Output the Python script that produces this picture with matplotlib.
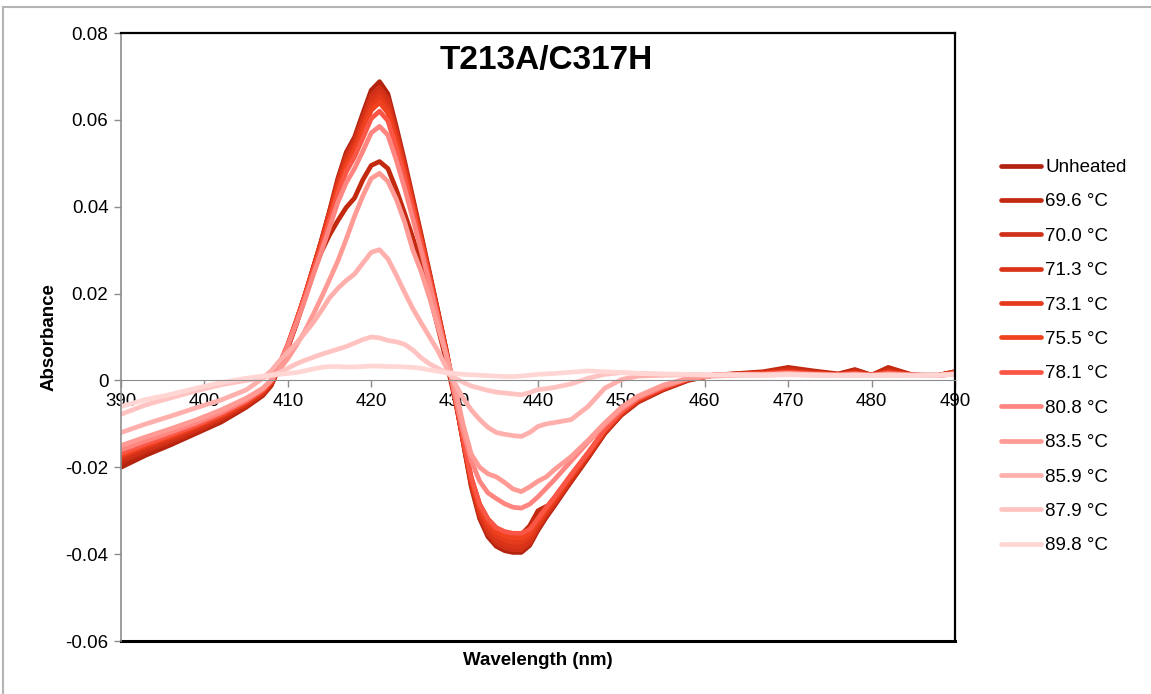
import matplotlib.pyplot as plt
from matplotlib.patches import Rectangle

plt.rcParams['font.family'] = ['Liberation Sans', 'DejaVu Sans']

wavelength = [390, 393, 396, 399, 402, 405, 407, 408, 409, 410,
              411, 412, 413, 414, 415, 416, 417, 418, 419, 420,
              421, 422, 423, 424, 425, 426, 427, 428, 429, 430,
              431, 432, 433, 434, 435, 436, 437, 438, 439, 440,
              441, 442, 444, 446, 448, 450, 452, 455, 458, 461,
              464, 467, 470, 473, 476, 478, 480, 482, 485, 488,
              490]

labels = ["Unheated", "69.6 °C", "70.0 °C", "71.3 °C", "73.1 °C", "75.5 °C",
          "78.1 °C", "80.8 °C", "83.5 °C", "85.9 °C", "87.9 °C", "89.8 °C"]

colors = ["#b3230f", "#c2290f", "#d02f18", "#da3418", "#e63a1c", "#f0421f",
          "#fa5545", "#ff8580", "#ff9a95", "#ffb0ad", "#ffc3c1", "#ffd6d4"]

unheated = [-0.0200, -0.0172, -0.0148, -0.0122, -0.0096, -0.0062, -0.0035, -0.0012, 0.0030, 0.0075,
            0.0130, 0.0190, 0.0255, 0.0320, 0.0390, 0.0465, 0.0525, 0.0560, 0.0615, 0.0668,
            0.0688, 0.0660, 0.0585, 0.0505, 0.0420, 0.0335, 0.0248, 0.0160, 0.0070, -0.0030,
            -0.0140, -0.0245, -0.0318, -0.0360, -0.0382, -0.0392, -0.0396, -0.0396, -0.0380, -0.0345,
            -0.0315, -0.0288, -0.0232, -0.0178, -0.0122, -0.0080, -0.0050, -0.0022, 0.0000, 0.0012,
            0.0015, 0.0018, 0.0028, 0.0020, 0.0014, 0.0024, 0.0012, 0.0028, 0.0012, 0.0012,
            0.0020]
t69_6 = [-0.0190, -0.0164, -0.0142, -0.0118, -0.0092, -0.0060, -0.0033, -0.0010, 0.0032, 0.0076,
         0.0128, 0.0186, 0.0245, 0.0295, 0.0335, 0.0368, 0.0398, 0.0420, 0.0462, 0.0495,
         0.0504, 0.0488, 0.0440, 0.0385, 0.0328, 0.0268, 0.0198, 0.0122, 0.0045, -0.0040,
         -0.0135, -0.0225, -0.0285, -0.0320, -0.0340, -0.0350, -0.0355, -0.0355, -0.0335, -0.0300,
         -0.0290, -0.0282, -0.0232, -0.0178, -0.0122, -0.0078, -0.0048, -0.0020, 0.0002, 0.0012,
         0.0016, 0.0020, 0.0030, 0.0022, 0.0015, 0.0025, 0.0012, 0.0030, 0.0012, 0.0012,
         0.0020]
t70_0 = [-0.0185, -0.0160, -0.0138, -0.0114, -0.0088, -0.0056, -0.0030, -0.0008, 0.0033, 0.0078,
         0.0133, 0.0192, 0.0256, 0.0320, 0.0388, 0.0460, 0.0518, 0.0553, 0.0605, 0.0656,
         0.0675, 0.0648, 0.0576, 0.0498, 0.0414, 0.0330, 0.0244, 0.0157, 0.0068, -0.0030,
         -0.0138, -0.0240, -0.0312, -0.0353, -0.0375, -0.0385, -0.0390, -0.0390, -0.0375, -0.0340,
         -0.0310, -0.0284, -0.0228, -0.0175, -0.0120, -0.0078, -0.0048, -0.0020, 0.0001, 0.0012,
         0.0015, 0.0018, 0.0025, 0.0018, 0.0013, 0.0020, 0.0012, 0.0024, 0.0012, 0.0011,
         0.0019]
t71_3 = [-0.0178, -0.0154, -0.0133, -0.0110, -0.0085, -0.0054, -0.0028, -0.0006, 0.0035, 0.0080,
         0.0135, 0.0193, 0.0256, 0.0318, 0.0385, 0.0455, 0.0510, 0.0545, 0.0595, 0.0645,
         0.0664, 0.0638, 0.0568, 0.0492, 0.0410, 0.0327, 0.0242, 0.0155, 0.0066, -0.0030,
         -0.0136, -0.0236, -0.0306, -0.0346, -0.0367, -0.0377, -0.0382, -0.0382, -0.0368, -0.0336,
         -0.0306, -0.0280, -0.0225, -0.0172, -0.0118, -0.0076, -0.0046, -0.0019, 0.0002, 0.0012,
         0.0014, 0.0017, 0.0022, 0.0017, 0.0013, 0.0018, 0.0012, 0.0020, 0.0012, 0.0011,
         0.0018]
t73_1 = [-0.0175, -0.0151, -0.0130, -0.0107, -0.0082, -0.0052, -0.0026, -0.0005, 0.0036, 0.0081,
         0.0136, 0.0193, 0.0255, 0.0316, 0.0381, 0.0449, 0.0502, 0.0537, 0.0585, 0.0634,
         0.0652, 0.0627, 0.0560, 0.0486, 0.0405, 0.0323, 0.0240, 0.0153, 0.0064, -0.0030,
         -0.0134, -0.0232, -0.0299, -0.0337, -0.0357, -0.0367, -0.0372, -0.0372, -0.0360, -0.0330,
         -0.0301, -0.0276, -0.0222, -0.0170, -0.0116, -0.0074, -0.0044, -0.0018, 0.0003, 0.0012,
         0.0014, 0.0016, 0.0020, 0.0016, 0.0013, 0.0017, 0.0012, 0.0019, 0.0012, 0.0011,
         0.0018]
t75_5 = [-0.0172, -0.0149, -0.0128, -0.0105, -0.0080, -0.0050, -0.0024, -0.0003, 0.0037, 0.0082,
         0.0136, 0.0192, 0.0253, 0.0312, 0.0375, 0.0441, 0.0493, 0.0528, 0.0575, 0.0622,
         0.0640, 0.0616, 0.0551, 0.0479, 0.0400, 0.0319, 0.0237, 0.0151, 0.0062, -0.0030,
         -0.0132, -0.0228, -0.0292, -0.0328, -0.0348, -0.0358, -0.0362, -0.0362, -0.0352, -0.0324,
         -0.0297, -0.0272, -0.0219, -0.0168, -0.0115, -0.0073, -0.0043, -0.0017, 0.0004, 0.0012,
         0.0014, 0.0016, 0.0019, 0.0016, 0.0013, 0.0016, 0.0012, 0.0018, 0.0012, 0.0011,
         0.0018]
t78_1 = [-0.0168, -0.0146, -0.0125, -0.0103, -0.0078, -0.0048, -0.0022, -0.0001, 0.0038, 0.0082,
         0.0135, 0.0190, 0.0249, 0.0306, 0.0367, 0.0430, 0.0480, 0.0515, 0.0558, 0.0603,
         0.0620, 0.0598, 0.0536, 0.0467, 0.0391, 0.0313, 0.0232, 0.0148, 0.0060, -0.0030,
         -0.0130, -0.0223, -0.0285, -0.0319, -0.0339, -0.0348, -0.0352, -0.0352, -0.0343, -0.0318,
         -0.0292, -0.0268, -0.0216, -0.0166, -0.0113, -0.0072, -0.0042, -0.0016, 0.0004, 0.0012,
         0.0014, 0.0015, 0.0018, 0.0015, 0.0013, 0.0016, 0.0012, 0.0017, 0.0012, 0.0011,
         0.0017]
t80_8 = [-0.0160, -0.0139, -0.0119, -0.0098, -0.0074, -0.0045, -0.0020, 0.0000, 0.0038, 0.0080,
         0.0130, 0.0183, 0.0240, 0.0295, 0.0352, 0.0410, 0.0455, 0.0488, 0.0528, 0.0570,
         0.0585, 0.0565, 0.0508, 0.0443, 0.0372, 0.0298, 0.0222, 0.0142, 0.0058, -0.0030,
         -0.0115, -0.0185, -0.0232, -0.0259, -0.0272, -0.0284, -0.0292, -0.0294, -0.0285, -0.0268,
         -0.0248, -0.0228, -0.0185, -0.0142, -0.0102, -0.0066, -0.0039, -0.0014, 0.0004, 0.0012,
         0.0013, 0.0014, 0.0016, 0.0014, 0.0012, 0.0014, 0.0012, 0.0015, 0.0012, 0.0011,
         0.0016]
t83_5 = [-0.0150, -0.0130, -0.0111, -0.0091, -0.0068, -0.0041, -0.0018, 0.0000, 0.0025, 0.0050,
         0.0080, 0.0112, 0.0150, 0.0190, 0.0232, 0.0275, 0.0325, 0.0378, 0.0425, 0.0465,
         0.0477, 0.0458, 0.0418, 0.0365, 0.0300, 0.0250, 0.0190, 0.0124, 0.0058, -0.0010,
         -0.0100, -0.0170, -0.0200, -0.0215, -0.0222, -0.0235, -0.0250, -0.0256, -0.0245, -0.0232,
         -0.0222, -0.0205, -0.0175, -0.0138, -0.0098, -0.0062, -0.0036, -0.0011, 0.0005, 0.0010,
         0.0012, 0.0013, 0.0015, 0.0013, 0.0012, 0.0013, 0.0012, 0.0014, 0.0012, 0.0011,
         0.0015]
t85_9 = [-0.0120, -0.0100, -0.0082, -0.0063, -0.0045, -0.0022, 0.0005, 0.0022, 0.0045, 0.0065,
         0.0085, 0.0108, 0.0132, 0.0160, 0.0190, 0.0212, 0.0230, 0.0245, 0.0270, 0.0295,
         0.0301, 0.0280, 0.0243, 0.0203, 0.0165, 0.0132, 0.0100, 0.0068, 0.0030, -0.0005,
         -0.0040, -0.0068, -0.0090, -0.0108, -0.0120, -0.0124, -0.0127, -0.0129, -0.0120, -0.0106,
         -0.0100, -0.0097, -0.0090, -0.0060, -0.0018, 0.0002, 0.0010, 0.0012, 0.0013, 0.0012,
         0.0014, 0.0013, 0.0015, 0.0013, 0.0012, 0.0013, 0.0011, 0.0013, 0.0012, 0.0012,
         0.0015]
t87_9 = [-0.0078, -0.0056, -0.0040, -0.0024, -0.0010, 0.0000, 0.0006, 0.0012, 0.0018, 0.0028,
         0.0038, 0.0046, 0.0053, 0.0060, 0.0066, 0.0072, 0.0078, 0.0086, 0.0094, 0.0100,
         0.0098, 0.0092, 0.0089, 0.0083, 0.0070, 0.0052, 0.0038, 0.0028, 0.0018, 0.0006,
         -0.0004, -0.0013, -0.0018, -0.0023, -0.0027, -0.0029, -0.0031, -0.0033, -0.0028, -0.0021,
         -0.0019, -0.0016, -0.0008, 0.0005, 0.0014, 0.0018, 0.0016, 0.0014, 0.0013, 0.0012,
         0.0013, 0.0012, 0.0014, 0.0012, 0.0011, 0.0012, 0.0011, 0.0012, 0.0011, 0.0012,
         0.0014]
t89_8 = [-0.0060, -0.0044, -0.0032, -0.0018, -0.0005, 0.0005, 0.0010, 0.0012, 0.0014, 0.0016,
         0.0018, 0.0022, 0.0026, 0.0030, 0.0032, 0.0032, 0.0031, 0.0031, 0.0032, 0.0033,
         0.0033, 0.0032, 0.0032, 0.0031, 0.0030, 0.0028, 0.0024, 0.0021, 0.0018, 0.0016,
         0.0014, 0.0013, 0.0012, 0.0011, 0.0010, 0.0009, 0.0009, 0.0010, 0.0012, 0.0014,
         0.0015, 0.0016, 0.0019, 0.0022, 0.0020, 0.0018, 0.0016, 0.0015, 0.0014, 0.0013,
         0.0012, 0.0012, 0.0013, 0.0012, 0.0011, 0.0012, 0.0011, 0.0012, 0.0011, 0.0012,
         0.0014]

series = [unheated, t69_6, t70_0, t71_3, t73_1, t75_5, t78_1, t80_8, t83_5, t85_9, t87_9, t89_8]

fig = plt.figure(figsize=(11.51, 6.94), dpi=100)
ax = fig.add_axes([121 / 1151, 53 / 694, 834 / 1151, 608 / 694])

for y, lab, c in zip(series, labels, colors):
    ax.plot(wavelength, y, color=c, lw=3.4, label=lab, solid_joinstyle='round', solid_capstyle='round')

ax.set_xlim(390, 490)
ax.set_ylim(-0.06, 0.08)
ax.set_xticks(range(390, 491, 10))
ax.set_yticks([-0.06, -0.04, -0.02, 0, 0.02, 0.04, 0.06, 0.08])
ax.set_yticklabels(["-0.06", "-0.04", "-0.02", "0", "0.02", "0.04", "0.06", "0.08"])

# x axis runs through zero, box drawn in black on the other sides
ax.spines['bottom'].set_position(('data', 0))
ax.spines['bottom'].set_color('#8c8c8c')
ax.spines['left'].set_color('#8c8c8c')
ax.spines['left'].set_linewidth(1.2)
for s in ['top', 'right']:
    ax.spines[s].set_color('black')
    ax.spines[s].set_linewidth(1.6)
ax.plot([0, 1], [0, 0], transform=ax.transAxes, color='black', lw=2.2, clip_on=False)

ax.tick_params(axis='both', colors='#8c8c8c', labelcolor='black', labelsize=13.5,
               direction='out', length=5, width=1)
ax.tick_params(axis='y', pad=4)
ax.tick_params(axis='x', pad=4)

ax.set_ylabel("Absorbance", fontsize=13.5, fontweight='bold', labelpad=6)
ax.set_xlabel("Wavelength (nm)", fontsize=13.5, fontweight='bold')
ax.xaxis.set_label_coords(0.5, -0.018)
ax.text(0.51, 0.955, "T213A/C317H", transform=ax.transAxes, ha='center', va='center',
        fontsize=24, fontweight='bold')

ax.legend(loc='upper left', bbox_to_anchor=(1001 / 1151, 1 - 159 / 694),
          bbox_transform=fig.transFigure, frameon=False, fontsize=13.5,
          handlelength=2.15, handletextpad=0.2, labelspacing=0.92, borderpad=0, borderaxespad=0)

fig.patches.append(Rectangle((3 / 1151, -0.5), 2, 1.5 - 7 / 694, transform=fig.transFigure,
                             fill=False, edgecolor='#b4b4b4', lw=1.5))

fig.savefig("out.png", dpi=100)
